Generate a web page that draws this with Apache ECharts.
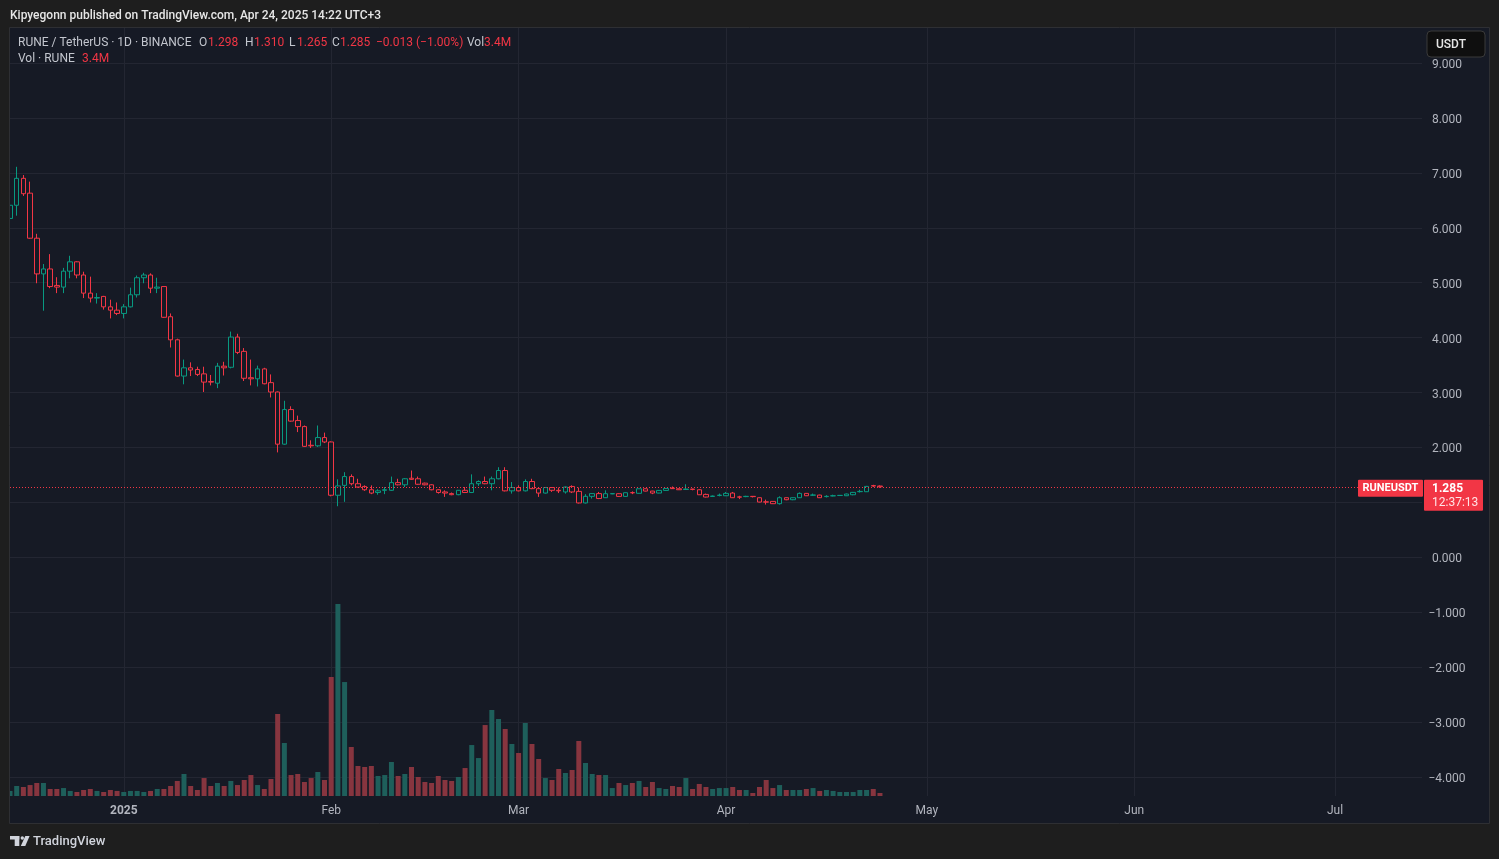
<!DOCTYPE html>
<html><head><meta charset="utf-8">
<script src="https://cdn.jsdelivr.net/npm/echarts@6/dist/echarts.min.js"></script>
<style>html,body{margin:0;padding:0;background:#1e1e1e;}#c{width:1499px;height:859px;}</style>
</head><body><div id="c"></div>
<script>
// ---- categories: one per day, 2024-12-15 .. 2025-07-14 ----
const firstDay = [2024, 11, 15];
const dayCount = 212;
const days = [];
for (let i = 0; i < dayCount; i++) {
  const d = new Date(Date.UTC(firstDay[0], firstDay[1], firstDay[2] + i));
  days.push(d.toISOString().slice(0, 10));
}
const monthNames = ['Jan','Feb','Mar','Apr','May','Jun','Jul','Aug','Sep','Oct','Nov','Dec'];

// ---- price axis ticks ----
const priceMin = -4, priceMax = 9, priceStep = 1;

// ---- daily candles: [open, high, low, close] ----
const ohlc = [
[6.17,6.47,6.06,6.41],[6.41,7.11,6.22,6.90],[6.90,6.96,6.58,6.62],[6.63,6.84,5.80,5.81],
[5.81,5.89,4.99,5.16],[5.16,5.34,4.49,5.25],[5.25,5.52,4.90,4.93],[4.95,5.10,4.81,4.92],
[4.92,5.27,4.81,5.21],[5.21,5.49,5.08,5.38],[5.38,5.39,5.08,5.14],[5.14,5.20,4.72,4.81],
[4.81,5.11,4.64,4.72],[4.72,4.81,4.62,4.73],[4.75,4.76,4.51,4.56],[4.56,4.69,4.35,4.50],
[4.50,4.64,4.41,4.44],[4.44,4.61,4.35,4.56],[4.56,4.91,4.55,4.78],[4.78,5.13,4.73,5.09],
[5.09,5.18,4.99,5.14],[5.14,5.17,4.81,4.90],[4.90,5.09,4.81,4.92],[4.93,4.93,4.36,4.37],
[4.38,4.44,3.82,3.96],[3.96,3.98,3.29,3.30],[3.30,3.60,3.15,3.45],[3.45,3.55,3.30,3.41],
[3.42,3.47,3.30,3.33],[3.34,3.47,3.01,3.19],[3.20,3.32,3.13,3.19],[3.17,3.54,3.08,3.48],
[3.48,3.56,3.31,3.45],[3.46,4.11,3.44,4.01],[4.01,4.07,3.70,3.73],[3.75,3.81,3.21,3.26],
[3.27,3.60,3.13,3.25],[3.25,3.49,3.11,3.43],[3.43,3.45,3.15,3.16],[3.18,3.33,2.91,3.01],
[3.01,3.02,1.91,2.06],[2.06,2.85,2.05,2.69],[2.69,2.75,2.47,2.48],[2.49,2.58,2.28,2.38],
[2.38,2.40,2.01,2.02],[2.04,2.13,1.99,2.03],[2.03,2.40,2.01,2.18],[2.18,2.27,2.08,2.10],
[2.10,2.11,1.11,1.13],[1.13,1.42,0.93,1.30],[1.31,1.55,1.01,1.47],[1.47,1.51,1.31,1.34],
[1.34,1.43,1.27,1.28],[1.29,1.31,1.21,1.23],[1.23,1.31,1.15,1.17],[1.18,1.24,1.14,1.21],
[1.22,1.28,1.15,1.23],[1.22,1.47,1.21,1.36],[1.36,1.43,1.31,1.32],[1.32,1.44,1.28,1.43],
[1.44,1.58,1.41,1.42],[1.43,1.47,1.32,1.33],[1.35,1.36,1.31,1.32],[1.32,1.33,1.22,1.23],
[1.23,1.24,1.16,1.18],[1.19,1.22,1.10,1.17],[1.16,1.18,1.13,1.14],[1.14,1.225,1.13,1.22],
[1.22,1.28,1.17,1.18],[1.18,1.51,1.17,1.34],[1.34,1.40,1.30,1.38],[1.38,1.47,1.33,1.34],
[1.34,1.47,1.22,1.43],[1.43,1.64,1.42,1.58],[1.58,1.64,1.20,1.21],[1.21,1.37,1.16,1.27],
[1.27,1.31,1.20,1.21],[1.21,1.42,1.20,1.38],[1.38,1.43,1.24,1.25],[1.25,1.26,1.10,1.17],
[1.17,1.28,1.16,1.27],[1.27,1.28,1.19,1.22],[1.22,1.27,1.17,1.21],[1.19,1.29,1.16,1.28],
[1.29,1.31,1.17,1.19],[1.20,1.27,0.98,0.99],[0.99,1.15,0.98,1.11],[1.11,1.17,1.07,1.16],
[1.16,1.19,1.06,1.07],[1.085,1.22,1.08,1.158],[1.155,1.165,1.15,1.16],[1.158,1.165,1.10,1.109],
[1.109,1.18,1.10,1.176],[1.178,1.20,1.15,1.174],[1.165,1.25,1.16,1.248],[1.248,1.255,1.20,1.206],
[1.206,1.21,1.15,1.17],[1.17,1.225,1.165,1.218],[1.218,1.26,1.21,1.254],[1.26,1.29,1.245,1.25],
[1.248,1.25,1.225,1.23],[1.235,1.33,1.23,1.242],[1.242,1.25,1.22,1.236],[1.23,1.24,1.135,1.139],
[1.145,1.16,1.09,1.097],[1.108,1.125,1.10,1.115],[1.125,1.16,1.11,1.133],[1.121,1.19,1.115,1.164],
[1.17,1.19,1.08,1.085],[1.10,1.12,1.06,1.095],[1.105,1.12,1.095,1.11],[1.11,1.115,1.09,1.105],
[1.085,1.09,1.00,1.006],[1.01,1.05,0.96,1.005],[1.018,1.02,0.97,0.976],[0.976,1.11,0.96,1.085],
[1.085,1.09,1.04,1.048],[1.048,1.09,1.04,1.085],[1.085,1.18,1.08,1.164],[1.164,1.17,1.115,1.121],
[1.13,1.16,1.12,1.135],[1.133,1.14,1.08,1.085],[1.105,1.13,1.09,1.11],[1.118,1.14,1.11,1.121],
[1.125,1.13,1.12,1.128],[1.121,1.16,1.115,1.152],[1.139,1.19,1.13,1.182],[1.195,1.23,1.18,1.20],
[1.194,1.30,1.19,1.291],[1.305,1.32,1.28,1.298],[1.298,1.310,1.265,1.285]
];

// ---- daily volume, millions of RUNE ----
const volumeM = [
5.7,11.3,10.2,12.4,14.7,14.7,7.9,7.9,9.0,5.7,4.5,6.8,7.9,5.7,4.5,6.8,5.7,4.5,5.7,5.7,4.5,5.7,7.9,7.9,
11.3,17.0,24.9,11.3,6.8,20.3,11.3,14.7,11.3,17.0,12.4,18.1,23.7,12.4,7.9,19.2,92.7,59.9,23.7,24.9,
15.8,20.3,27.1,18.1,134.5,217.0,128.8,55.4,33.9,32.8,33.9,22.6,23.7,38.4,22.6,24.9,32.8,21.5,15.8,14.7,
22.6,18.1,17.0,21.5,31.6,57.6,42.9,80.2,97.2,87.0,75.7,58.8,48.6,82.5,58.8,41.8,20.3,18.1,30.5,26.0,
29.4,62.2,37.3,24.9,23.7,
23.7,9.0,14.7,12.4,14.7,17.0,10.2,15.8,9.0,7.9,11.3,10.2,20.3,7.9,13.6,10.2,7.9,9.0,9.0,10.2,6.8,6.8,
3.4,10.2,18.1,9.0,12.4,6.8,6.8,6.8,7.9,9.0,5.7,6.8,5.7,4.5,4.5,4.5,6.8,6.8,7.9,3.4
];

const lastPrice = 1.285;
const volAxisMax = 868;

const UP = '#089981', DOWN = '#f23645', BG = '#161a25';
const VOL_UP = '#1e5f5b', VOL_DOWN = '#87353f';
const GRID = '#232632', AXIS_TXT = '#b2b5be', LEG = '#c3c6ce';
const FONT = 'Roboto, "Noto Sans", sans-serif';

const candleData = ohlc.map(r => [r[0], r[3], r[2], r[1]]);
const volData = volumeM.map((v, i) => ({
  value: v,
  itemStyle: { color: ohlc[i][3] >= ohlc[i][0] ? VOL_UP : VOL_DOWN }
}));
const isMonthStart = (idx, val) => val.slice(8) === '01';

const chart = echarts.init(document.getElementById('c'), null, { renderer: 'canvas' });

const option = {
  backgroundColor: BG,
  animation: false,
  grid: [
    { left: 10, right: 77, top: 63, bottom: 82 },
    { left: 10, right: 77, top: 28, bottom: 63 }
  ],
  xAxis: [
    { type: 'category', gridIndex: 0, data: days, boundaryGap: false,
      axisLine: { show: false }, axisTick: { show: false }, axisLabel: { show: false }, splitLine: { show: false } },
    { type: 'category', gridIndex: 1, data: days, boundaryGap: false,
      axisLine: { show: false }, axisTick: { show: false },
      splitLine: { show: true, interval: isMonthStart, lineStyle: { color: GRID, width: 1 } },
      axisLabel: {
        show: true, interval: isMonthStart, margin: 9, color: AXIS_TXT, fontSize: 12, fontFamily: FONT,
        formatter: v => { const m = +v.slice(5, 7); return m === 1 ? '{y|' + v.slice(0, 4) + '}' : monthNames[m - 1]; },
        rich: { y: { fontWeight: 'bold', color: AXIS_TXT, fontSize: 12, fontFamily: FONT } }
      } }
  ],
  yAxis: [
    { type: 'value', gridIndex: 0, position: 'right', min: priceMin, max: priceMax, interval: priceStep,
      axisLine: { show: false }, axisTick: { show: false },
      splitLine: { show: true, lineStyle: { color: GRID, width: 1 } },
      axisLabel: { color: AXIS_TXT, fontSize: 12, fontFamily: FONT, align: 'center', margin: 25,
        formatter: v => '{p|' + (v < 0 ? '\u2212' : '') + Math.abs(v).toFixed(3) + '}',
        rich: { p: { color: AXIS_TXT, fontSize: 12, fontFamily: FONT, padding: [4, 0, 0, 0] } } } },
    { type: 'value', gridIndex: 1, min: 0, max: volAxisMax, show: false, splitLine: { show: false } }
  ],
  series: [
    { type: 'bar', xAxisIndex: 1, yAxisIndex: 1, data: volData, barWidth: 5, z: 1 },
    { type: 'candlestick', xAxisIndex: 0, yAxisIndex: 0, data: candleData, barWidth: 5, z: 3,
      itemStyle: { color: BG, color0: BG, borderColor: UP, borderColor0: DOWN, borderColorDoji: UP, borderWidth: 1 },
      markLine: { silent: true, symbol: ['none', 'none'], label: { show: false },
        lineStyle: { color: DOWN, type: [1, 2], width: 1 },
        data: [{ yAxis: lastPrice }] } }
  ]
};
chart.setOption(option);

// ---- annotations (texts/boxes around the plot) ----
const py = chart.convertToPixel({ yAxisIndex: 0 }, lastPrice);
const OUTER = '#1e1e1e';
function txt(x, y, s, color, size, weight, align) {
  return { type: 'text', x: x, y: y, z: 100,
    style: { text: s, fill: color, font: (weight || 'normal') + ' ' + size + 'px ' + FONT,
      textAlign: align || 'left', textVerticalAlign: 'middle' } };
}
const g = [
  // outer frame
  { type: 'rect', z: 90, shape: { x: 0, y: 0, width: 1499, height: 27 }, style: { fill: OUTER } },
  { type: 'rect', z: 90, shape: { x: 0, y: 824, width: 1499, height: 35 }, style: { fill: OUTER } },
  { type: 'rect', z: 90, shape: { x: 0, y: 0, width: 9, height: 859 }, style: { fill: OUTER } },
  { type: 'rect', z: 90, shape: { x: 1490, y: 0, width: 9, height: 859 }, style: { fill: OUTER } },
  { type: 'rect', z: 91, shape: { x: 9.5, y: 27.5, width: 1480, height: 796 }, style: { fill: null, stroke: '#2e2f33', lineWidth: 1 } },
  txt(10, 16, 'Kipyegonn published on TradingView.com, Apr 24, 2025 14:22 UTC+3', '#e6e6e6', 12, '500'),
  // legend line 1
  txt(18, 43, 'RUNE / TetherUS \u00b7 1D \u00b7 BINANCE', LEG, 12),
  txt(199, 43, 'O', LEG, 12), txt(208, 43, '1.298', DOWN, 12),
  txt(245, 43, 'H', LEG, 12), txt(254, 43, '1.310', DOWN, 12),
  txt(289, 43, 'L', LEG, 12), txt(297, 43, '1.265', DOWN, 12),
  txt(332, 43, 'C', LEG, 12), txt(340, 43, '1.285', DOWN, 12),
  txt(376, 43, '\u22120.013 (\u22121.00%)', DOWN, 12),
  txt(467, 43, 'Vol', LEG, 12), txt(484, 43, '3.4M', DOWN, 12),
  // legend line 2
  txt(18, 59, 'Vol \u00b7 RUNE', LEG, 12), txt(82, 59, '3.4M', DOWN, 12),
  // currency button
  { type: 'rect', z: 95, shape: { x: 1427, y: 31, width: 58, height: 26, r: 4 }, style: { fill: '#0f0f0f', stroke: '#3a3a3a', lineWidth: 1 } },
  txt(1436, 45, 'USDT', '#e6e6e6', 12, '500'),
  // last price labels
  { type: 'rect', z: 95, shape: { x: 1358, y: py - 7, width: 65, height: 17, r: 1 }, style: { fill: DOWN } },
  txt(1390.5, py + 2, 'RUNEUSDT', '#ffffff', 11, 'bold', 'center'),
  { type: 'rect', z: 95, shape: { x: 1424, y: py - 7, width: 59, height: 31, r: 1 }, style: { fill: DOWN } },
  txt(1432, py + 2, '1.285', '#ffffff', 12, 'bold'),
  txt(1432, py + 16, '12:37:13', '#ffe3e5', 12, 'normal'),
  // TradingView logo
  { type: 'rect', z: 95, shape: { x: 10, y: 836, width: 9.3, height: 3.5 }, style: { fill: '#d1d4dc' } },
  { type: 'rect', z: 95, shape: { x: 14.7, y: 836, width: 4.6, height: 10 }, style: { fill: '#d1d4dc' } },
  { type: 'circle', z: 95, shape: { cx: 22.3, cy: 838, r: 1.7 }, style: { fill: '#d1d4dc' } },
  { type: 'polygon', z: 95, shape: { points: [[25.3, 836], [29.6, 836], [25.3, 846], [20.8, 846]] }, style: { fill: '#d1d4dc' } },
  txt(33, 842, 'TradingView', '#d1d4dc', 13, '500')
];
chart.setOption({ graphic: { elements: g } });
</script>
</body></html>
